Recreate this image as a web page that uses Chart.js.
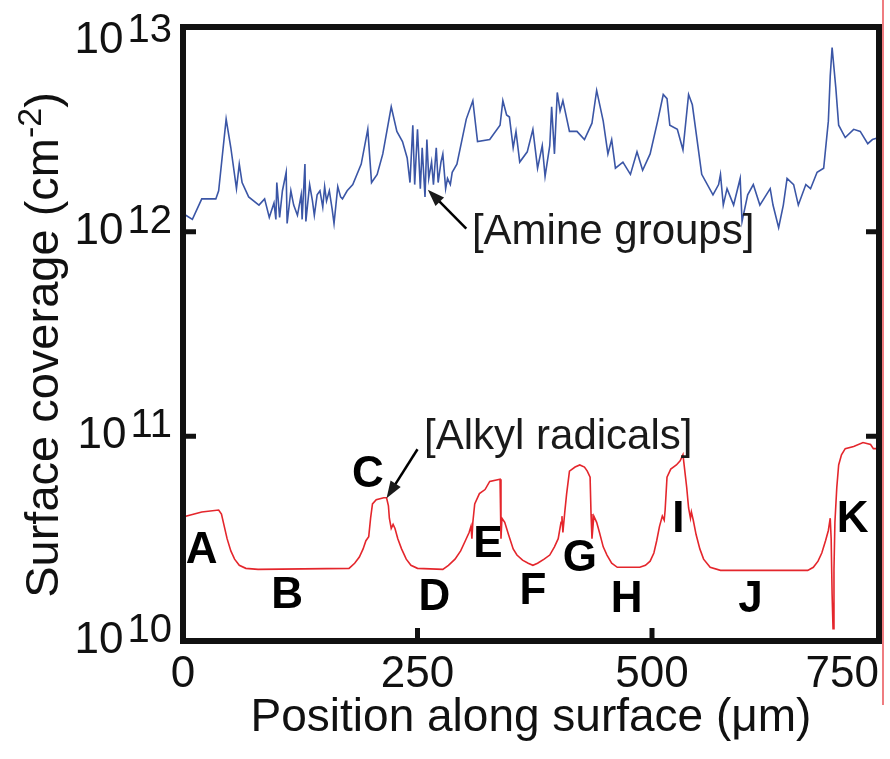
<!DOCTYPE html>
<html>
<head>
<meta charset="utf-8">
<script src="https://cdn.jsdelivr.net/npm/chart.js@4"></script>
<style>
  html, body { margin: 0; padding: 0; background: #fff; }
  canvas { display: block; }
</style>
</head>
<body>
<canvas id="coverage" width="890" height="759"></canvas>
<script>
// position along the surface (um) and log10 of surface coverage (cm^-2)
var amineX = [3, 10, 20, 35, 38, 46, 51, 57, 60, 63, 70, 81, 87, 92, 97, 99, 100, 103, 106, 110,
    111, 115, 118, 122, 126, 127, 130, 131, 135, 138, 140, 143, 146, 149, 151, 153, 156, 159, 161, 165,
    168, 170, 175, 181, 190, 197, 201, 207, 213, 222, 228, 234, 239, 242, 245, 247, 250, 253, 255, 258,
    260, 262, 265, 267, 270, 272, 275, 277, 280, 282, 285, 287, 292, 302, 309, 314, 327, 338, 341, 345,
    348, 352, 355, 359, 367, 373, 378, 383, 386, 391, 393, 396, 399, 402, 405, 412, 420, 428, 436, 441,
    448, 453, 457, 461, 469, 477, 484, 490, 498, 506, 512, 516, 519, 527, 533, 539, 543, 553, 565, 571,
    573, 576, 580, 587, 594, 596, 602, 608, 615, 626, 629, 635, 640, 644, 651, 656, 664, 669, 676, 683,
    688, 690, 692, 696, 699, 706, 715, 722, 730, 735, 742];
var amineLog = [12.08, 12.06, 12.16, 12.16, 12.20, 12.55, 12.41, 12.21, 12.33, 12.24, 12.17, 12.13, 12.16, 12.07, 12.14, 12.06, 12.24, 12.07, 12.20, 12.29,
    12.04, 12.20, 12.13, 12.08, 12.18, 12.06, 12.33, 12.05, 12.23, 12.15, 12.08, 12.18, 12.20, 12.12, 12.22, 12.15, 12.20, 12.11, 12.04, 12.22,
    12.17, 12.16, 12.20, 12.23, 12.33, 12.50, 12.24, 12.28, 12.38, 12.61, 12.49, 12.44, 12.36, 12.24, 12.52, 12.23, 12.50, 12.21, 12.41, 12.17,
    12.45, 12.26, 12.34, 12.23, 12.41, 12.24, 12.34, 12.38, 12.21, 12.26, 12.23, 12.29, 12.33, 12.55, 12.64, 12.44, 12.45, 12.52, 12.64, 12.57,
    12.56, 12.41, 12.49, 12.34, 12.39, 12.50, 12.31, 12.42, 12.27, 12.42, 12.61, 12.38, 12.68, 12.59, 12.64, 12.49, 12.49, 12.45, 12.53, 12.69,
    12.54, 12.38, 12.45, 12.31, 12.34, 12.28, 12.39, 12.30, 12.38, 12.54, 12.67, 12.65, 12.52, 12.50, 12.40, 12.67, 12.62, 12.28, 12.18, 12.23,
    12.28, 12.13, 12.21, 12.13, 12.26, 12.05, 12.18, 12.23, 12.13, 12.21, 12.13, 12.02, 12.13, 12.26, 12.23, 12.13, 12.23, 12.21, 12.29, 12.31,
    12.54, 12.76, 12.90, 12.70, 12.52, 12.46, 12.50, 12.49, 12.43, 12.45, 12.46];

var alkylX = [0, 3, 20, 38, 41, 44, 47, 51, 55, 60, 67, 80, 177, 183, 188, 192, 195, 198, 200, 202,
    206, 214, 217, 219, 220, 222, 224, 226, 229, 233, 238, 243, 250, 277, 283, 290, 296, 301, 305, 307,
    308, 309, 311, 316, 322, 327, 338, 339, 340, 343, 347, 352, 356, 362, 368, 373, 378, 385, 391, 396,
    400, 403, 404, 405, 407, 409, 412, 418, 423, 428, 431, 434, 435, 436, 438, 441, 444, 448, 452, 457,
    463, 487, 493, 498, 502, 505, 508, 511, 512, 513, 514, 516, 520, 526, 530, 533, 535, 537, 539, 541,
    542, 544, 547, 551, 555, 562, 573, 666, 672, 677, 681, 685, 688, 690, 691, 692, 693, 694, 695, 697,
    699, 702, 706, 715, 725, 733, 736, 742];
var alkylLog = [10.60, 10.61, 10.63, 10.64, 10.62, 10.56, 10.50, 10.44, 10.40, 10.37, 10.355, 10.35, 10.355, 10.38, 10.41, 10.45, 10.49, 10.51, 10.60, 10.67,
    10.69, 10.70, 10.70, 10.66, 10.60, 10.55, 10.57, 10.55, 10.50, 10.45, 10.40, 10.37, 10.355, 10.35, 10.37, 10.40, 10.44, 10.49, 10.53, 10.56,
    10.50, 10.58, 10.67, 10.72, 10.74, 10.78, 10.79, 10.50, 10.60, 10.58, 10.52, 10.45, 10.42, 10.395, 10.38, 10.37, 10.38, 10.40, 10.42, 10.46,
    10.50, 10.58, 10.61, 10.53, 10.63, 10.72, 10.83, 10.85, 10.86, 10.85, 10.83, 10.80, 10.62, 10.50, 10.61, 10.58, 10.53, 10.46, 10.42, 10.38,
    10.36, 10.36, 10.37, 10.39, 10.43, 10.49, 10.56, 10.61, 10.60, 10.59, 10.64, 10.80, 10.84, 10.86, 10.88, 10.91, 10.83, 10.75, 10.65, 10.60,
    10.63, 10.59, 10.52, 10.45, 10.40, 10.36, 10.345, 10.345, 10.36, 10.39, 10.43, 10.49, 10.54, 10.60, 10.50, 10.23, 10.06, 10.35, 10.58, 10.75,
    10.86, 10.91, 10.94, 10.95, 10.97, 10.96, 10.94, 10.94];

var xTicks = [0, 250, 500, 750];
var yDecades = [10, 11, 12, 13];

// region letters along the alkyl trace
var regionNames = ['A', 'B', 'C', 'D', 'E', 'F', 'G', 'H', 'I', 'J', 'K'];
var regionX = [20, 111, 197, 268, 325, 373, 423, 473, 528, 605, 714];
var regionLog = [10.44, 10.22, 10.81, 10.21, 10.47, 10.24, 10.40, 10.20, 10.59, 10.20, 10.59];

// series callouts: text anchor, arrow tail, arrow tip
var callouts = [
    { text: '[Amine groups]', x: 308, log: 11.94, tail: [302, 12.015], tip: [261, 12.205] },
    { text: '[Alkyl radicals]', x: 257, log: 10.937, tail: [250, 10.937], tip: [217, 10.698] }
];

function toPoints(xs, logs) {
    var pts = [];
    for (var i = 0; i < xs.length; i++) pts.push({ x: xs[i], y: Math.pow(10, logs[i]) });
    return pts;
}

var FONT = '"Liberation Sans", Arial, Helvetica, sans-serif';

function arrow(ctx, x1, y1, x2, y2) {
    var a = Math.atan2(y2 - y1, x2 - x1);
    var head = 17, half = 6;
    ctx.beginPath();
    ctx.moveTo(x1, y1);
    ctx.lineTo(x2 - Math.cos(a) * head * 0.8, y2 - Math.sin(a) * head * 0.8);
    ctx.stroke();
    ctx.beginPath();
    ctx.moveTo(x2, y2);
    ctx.lineTo(x2 - Math.cos(a) * head - Math.sin(a) * half, y2 - Math.sin(a) * head + Math.cos(a) * half);
    ctx.lineTo(x2 - Math.cos(a) * head + Math.sin(a) * half, y2 - Math.sin(a) * head - Math.cos(a) * half);
    ctx.closePath();
    ctx.fill();
}

var frame = {
    id: 'frame',
    afterDatasetsDraw: function (chart) {
        var ctx = chart.ctx, xs = chart.scales.x, ys = chart.scales.y;
        var a = chart.chartArea;
        ctx.save();

        // thin red edge line at the right border
        ctx.strokeStyle = '#e4262c';
        ctx.lineWidth = 1.2;
        ctx.beginPath();
        ctx.moveTo(a.right + 4, 0);
        ctx.lineTo(a.right + 4, 705);
        ctx.stroke();

        ctx.fillStyle = '#000';
        ctx.strokeStyle = '#000';

        // region letters
        ctx.font = 'bold 44px ' + FONT;
        ctx.textAlign = 'center';
        ctx.textBaseline = 'middle';
        regionNames.forEach(function (name, i) {
            ctx.fillText(name, xs.getPixelForValue(regionX[i]), ys.getPixelForValue(Math.pow(10, regionLog[i])));
        });

        // callouts
        ctx.font = '42px ' + FONT;
        ctx.textAlign = 'left';
        ctx.textBaseline = 'alphabetic';
        ctx.fillStyle = '#1a1a1a';
        ctx.lineWidth = 2.5;
        callouts.forEach(function (c) {
            ctx.fillText(c.text, xs.getPixelForValue(c.x), ys.getPixelForValue(Math.pow(10, c.log)));
            arrow(ctx,
                xs.getPixelForValue(c.tail[0]), ys.getPixelForValue(Math.pow(10, c.tail[1])),
                xs.getPixelForValue(c.tip[0]), ys.getPixelForValue(Math.pow(10, c.tip[1])));
        });

        // box and inward ticks
        ctx.fillStyle = '#000';
        ctx.strokeStyle = '#111';
        ctx.lineWidth = 6;
        ctx.lineJoin = 'miter';
        ctx.strokeRect(a.left, a.top, a.right - a.left, a.bottom - a.top);
        ctx.lineWidth = 5;
        xTicks.forEach(function (v) {
            if (v <= xs.min || v >= xs.max) return;
            var px = xs.getPixelForValue(v);
            ctx.beginPath();
            ctx.moveTo(px, a.bottom);
            ctx.lineTo(px, a.bottom - 13);
            ctx.stroke();
        });
        yDecades.forEach(function (d) {
            var v = Math.pow(10, d);
            if (v <= ys.min || v >= ys.max) return;
            var py = ys.getPixelForValue(v);
            ctx.beginPath();
            ctx.moveTo(a.left, py);
            ctx.lineTo(a.left + 13, py);
            ctx.moveTo(a.right, py);
            ctx.lineTo(a.right - 13, py);
            ctx.stroke();
        });

        // tick labels
        ctx.fillStyle = '#111';
        ctx.font = '44px ' + FONT;
        ctx.textBaseline = 'alphabetic';
        xTicks.forEach(function (v) {
            var label = String(v);
            var w = ctx.measureText(label).width;
            var px = xs.getPixelForValue(v);
            if (px + w / 2 > a.right) {
                ctx.textAlign = 'right';
                ctx.fillText(label, a.right, a.bottom + 46);
            } else {
                ctx.textAlign = 'center';
                ctx.fillText(label, px, a.bottom + 46);
            }
        });
        yDecades.forEach(function (d) {
            var py = ys.getPixelForValue(Math.pow(10, d));
            var base = Math.max(py + 12, 53);
            ctx.textAlign = 'right';
            ctx.font = '40px ' + FONT;
            var ew = ctx.measureText(String(d)).width;
            ctx.fillText(String(d), 172, base - 11);
            ctx.font = '44px ' + FONT;
            ctx.fillText('10', 172 - ew - 4, base);
        });

        // axis titles
        ctx.font = '46px ' + FONT;
        ctx.textAlign = 'center';
        ctx.fillText('Position along surface (\u03bcm)', (a.left + a.right) / 2, 731);

        ctx.translate(58, 345);
        ctx.rotate(-Math.PI / 2);
        var main = 'Surface coverage (cm', sup = '-2', close = ')';
        ctx.font = '47px ' + FONT;
        var w1 = ctx.measureText(main).width, w3 = ctx.measureText(close).width;
        ctx.font = '34px ' + FONT;
        var w2 = ctx.measureText(sup).width;
        var x0 = -(w1 + w2 + w3) / 2;
        ctx.textAlign = 'left';
        ctx.font = '47px ' + FONT;
        ctx.fillText(main, x0, 0);
        ctx.font = '34px ' + FONT;
        ctx.fillText(sup, x0 + w1, -17);
        ctx.font = '47px ' + FONT;
        ctx.fillText(close, x0 + w1 + w2, 0);
        ctx.restore();
    }
};

new Chart(document.getElementById('coverage'), {
    type: 'line',
    data: {
        datasets: [
            {
                label: 'Amine groups',
                data: toPoints(amineX, amineLog),
                borderColor: '#3b56a6',
                borderWidth: 1.6,
                pointRadius: 0,
                tension: 0
            },
            {
                label: 'Alkyl radicals',
                data: toPoints(alkylX, alkylLog),
                borderColor: '#e4262c',
                borderWidth: 1.6,
                pointRadius: 0,
                tension: 0
            }
        ]
    },
    options: {
        responsive: false,
        animation: false,
        devicePixelRatio: 1,
        layout: { padding: { left: 183, right: 11, top: 27, bottom: 118 } },
        scales: {
            x: { type: 'linear', min: 0, max: 742, display: false },
            y: { type: 'logarithmic', min: 1e10, max: 1e13, display: false }
        },
        plugins: {
            legend: { display: false },
            tooltip: { enabled: false }
        }
    },
    plugins: [frame]
});
</script>
</body>
</html>
